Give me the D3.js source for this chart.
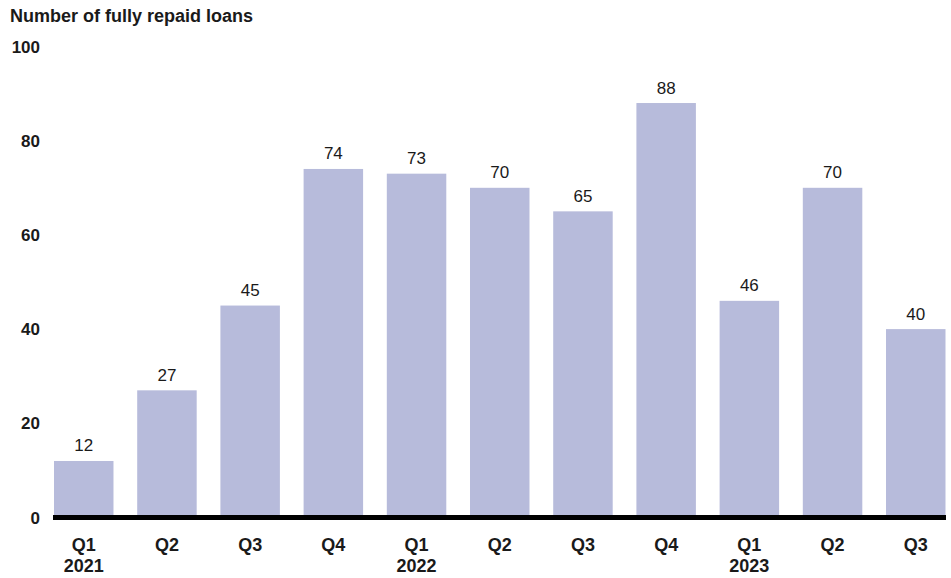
<!DOCTYPE html>
<html>
<head>
<meta charset="utf-8">
<script src="https://cdn.jsdelivr.net/npm/d3@7"></script>
<style>
  html, body { margin: 0; padding: 0; background: #fff; }
  svg { display: block; font-family: "Liberation Sans", Arial, sans-serif; }
</style>
</head>
<body>
<svg id="chart" width="951" height="578"></svg>
<script>
// Fully repaid loans per quarter
const quarters = ["Q1", "Q2", "Q3", "Q4", "Q1", "Q2", "Q3", "Q4", "Q1", "Q2", "Q3"];
const years = ["2021", "", "", "", "2022", "", "", "", "2023", "", ""];
const repaidLoans = [12, 27, 45, 74, 73, 70, 65, 88, 46, 70, 40];
const yTicks = [0, 20, 40, 60, 80, 100];
const title = "Number of fully repaid loans";

const svg = d3.select("#chart");

const x = d3.scaleBand()
  .domain(d3.range(repaidLoans.length))
  .range([54, 945.5])
  .paddingInner(0.285)
  .paddingOuter(0);

const y = d3.scaleLinear()
  .domain([0, 100])
  .range([517.5, 46.5]);

// Title
svg.append("text")
  .attr("x", 10)
  .attr("y", 22)
  .attr("font-size", 18)
  .attr("font-weight", "bold")
  .attr("fill", "#1a1a1a")
  .text(title);

// Y tick labels (no gridlines)
svg.append("g")
  .selectAll("text")
  .data(yTicks)
  .join("text")
  .attr("x", 40)
  .attr("y", d => y(d) + 6)
  .attr("text-anchor", "end")
  .attr("font-size", 17)
  .attr("font-weight", "bold")
  .attr("fill", "#1a1a1a")
  .text(d => d);

// Bars
svg.append("g")
  .selectAll("rect")
  .data(repaidLoans)
  .join("rect")
  .attr("x", (d, i) => x(i))
  .attr("y", d => y(d))
  .attr("width", x.bandwidth())
  .attr("height", d => y(0) - y(d))
  .attr("fill", "#b7bbdb");

// Value labels
svg.append("g")
  .selectAll("text")
  .data(repaidLoans)
  .join("text")
  .attr("x", (d, i) => x(i) + x.bandwidth() / 2)
  .attr("y", d => y(d) - 9.5)
  .attr("text-anchor", "middle")
  .attr("font-size", 17)
  .attr("fill", "#1a1a1a")
  .text(d => d);

// Baseline
svg.append("line")
  .attr("x1", 53)
  .attr("x2", 946)
  .attr("y1", y(0))
  .attr("y2", y(0))
  .attr("stroke", "#000")
  .attr("stroke-width", 5);

// Category labels: quarter and year
const xl = svg.append("g")
  .selectAll("g")
  .data(quarters)
  .join("g")
  .attr("transform", (d, i) => `translate(${x(i) + x.bandwidth() / 2},0)`);

xl.append("text")
  .attr("y", 551)
  .attr("text-anchor", "middle")
  .attr("font-size", 18)
  .attr("font-weight", "bold")
  .attr("fill", "#1a1a1a")
  .text(d => d);

xl.append("text")
  .attr("y", 572)
  .attr("text-anchor", "middle")
  .attr("font-size", 18)
  .attr("font-weight", "bold")
  .attr("fill", "#1a1a1a")
  .text((d, i) => years[i]);
</script>
</body>
</html>
